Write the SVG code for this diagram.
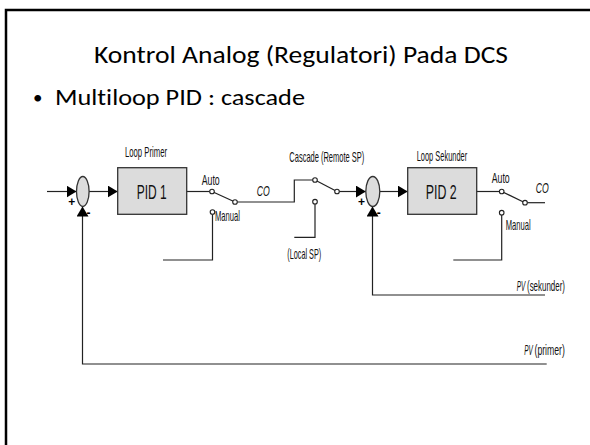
<svg xmlns="http://www.w3.org/2000/svg" width="590" height="445" viewBox="0 0 590 445">
<defs>
<marker id="arr" viewBox="0 0 10 12" refX="10" refY="6" markerWidth="10" markerHeight="12" markerUnits="userSpaceOnUse" orient="auto">
<path d="M0,0 L10,6 L0,12 z" fill="#000"/>
</marker>
<style>
.frame{fill:none;stroke:#000;stroke-width:2.5}
.ttl{font-family:Carlito,"Open Sans","Liberation Sans",sans-serif;fill:#000;font-variant-ligatures:none}
.lbl{font-family:"Liberation Sans",Arial,sans-serif;font-size:14px;fill:#111}
.pid{font-family:"Liberation Sans",Arial,sans-serif;font-size:20px;fill:#111}
.sg{font-family:"Liberation Sans",Arial,sans-serif;font-size:12px;font-weight:bold;fill:#000}
.box{fill:#dcdcdc;stroke:#333;stroke-width:1.3}
.sum{fill:#dcdcdc;stroke:#333;stroke-width:1.3}
.ln{fill:none;stroke:#222;stroke-width:1.2}
.ct{fill:#fff;stroke:#222;stroke-width:1.1}
.it{font-style:italic}
</style>
</defs>
<rect width="590" height="445" fill="#fff"/>
<path class="frame" d="M6,445 L6,10 L590,10"/>
<text class="ttl" x="94" y="63" font-size="24" textLength="414" lengthAdjust="spacingAndGlyphs">Kontrol Analog (Regulatori) Pada DCS</text>
<text class="ttl" x="33" y="104" font-size="19">•</text>
<text class="ttl" x="55" y="105" font-size="23" textLength="250" lengthAdjust="spacingAndGlyphs">Multiloop PID : cascade</text>

<g id="connectors">
<line class="ln" x1="47" y1="191.5" x2="76.5" y2="191.5" marker-end="url(#arr)"/>
<line class="ln" x1="89" y1="191.5" x2="117.7" y2="191.5" marker-end="url(#arr)"/>
<line class="ln" x1="186.7" y1="191.5" x2="209.7" y2="191.5"/>
<line class="ln" x1="212" y1="191.5" x2="235" y2="202"/>
<polyline class="ln" points="237.3,202 294.3,202 294.3,180 312.7,180"/>
<polyline class="ln" points="212.5,214.3 212.5,260 163,260"/>
<line class="ln" x1="315" y1="180" x2="337" y2="191.5"/>
<line class="ln" x1="339.3" y1="191.5" x2="365.8" y2="191.5" marker-end="url(#arr)"/>
<polyline class="ln" points="315,204 315,237.3 294.3,237.3"/>
<line class="ln" x1="380" y1="191.5" x2="407.7" y2="191.5" marker-end="url(#arr)"/>
<line class="ln" x1="476.7" y1="191.5" x2="499.4" y2="191.5"/>
<line class="ln" x1="501.7" y1="191.5" x2="525" y2="202.7"/>
<line class="ln" x1="527.3" y1="202.7" x2="545" y2="202.7"/>
<polyline class="ln" points="501.7,215 501.7,260 453.3,260"/>
<polyline class="ln" points="546.7,364 82.5,364 82.5,206.5" marker-end="url(#arr)"/>
<polyline class="ln" points="545,295 372.5,295 372.5,206.5" marker-end="url(#arr)"/>
</g>

<g id="sum1">
<ellipse class="sum" cx="82.8" cy="191.5" rx="6.3" ry="15"/>
<text class="sg" x="71.7" y="206" text-anchor="middle">+</text>
<text class="sg" x="88.5" y="217" text-anchor="middle">-</text>
</g>

<g id="pid1">
<text class="lbl" transform="translate(125,157) scale(0.551,1)">Loop Primer</text>
<rect class="box" x="117.7" y="167.7" width="69" height="46.6"/>
<text class="pid" transform="translate(136.7,198.5) scale(0.6,1)">PID 1</text>
</g>

<g id="switch1">
<text class="lbl" transform="translate(201.7,185) scale(0.625,1)">Auto</text>
<circle class="ct" cx="212" cy="191.5" r="2.3"/>
<circle class="ct" cx="235" cy="202" r="2.3"/>
<circle class="ct" cx="212.5" cy="212" r="2.3"/>
<text class="lbl" transform="translate(215,221) scale(0.545,1)">Manual</text>
<text class="lbl it" transform="translate(256.7,196) scale(0.62,1)">CO</text>
</g>

<g id="cascade-switch">
<text class="lbl" transform="translate(289.3,162) scale(0.536,1)">Cascade (Remote SP)</text>
<circle class="ct" cx="315" cy="180" r="2.3"/>
<circle class="ct" cx="337" cy="191.5" r="2.3"/>
<circle class="ct" cx="315" cy="201.7" r="2.3"/>
<text class="lbl" transform="translate(287.3,258.5) scale(0.52,1)">(Local SP)</text>
</g>

<g id="sum2">
<ellipse class="sum" cx="372.8" cy="191.5" rx="7" ry="15"/>
<text class="sg" x="361.5" y="206" text-anchor="middle">+</text>
<text class="sg" x="378.8" y="217" text-anchor="middle">-</text>
</g>

<g id="pid2">
<text class="lbl" transform="translate(416.7,160.5) scale(0.532,1)">Loop Sekunder</text>
<rect class="box" x="407.7" y="167.7" width="69" height="46.6"/>
<text class="pid" transform="translate(425.7,198.5) scale(0.62,1)">PID 2</text>
</g>

<g id="switch2">
<text class="lbl" transform="translate(491.7,183) scale(0.625,1)">Auto</text>
<circle class="ct" cx="501.7" cy="191.5" r="2.3"/>
<circle class="ct" cx="525" cy="202.7" r="2.3"/>
<circle class="ct" cx="501.7" cy="212.7" r="2.3"/>
<text class="lbl" transform="translate(505.7,229.5) scale(0.545,1)">Manual</text>
<text class="lbl it" transform="translate(535.7,193) scale(0.62,1)">CO</text>
</g>

<g id="pv-labels">
<text class="lbl it" transform="translate(516.7,290.5) scale(0.46,1)">PV</text>
<text class="lbl" transform="translate(527,290.5) scale(0.568,1)">(sekunder)</text>
<text class="lbl it" transform="translate(524.3,354.5) scale(0.46,1)">PV</text>
<text class="lbl" transform="translate(534.5,354.5) scale(0.62,1)">(primer)</text>
</g>
</svg>
